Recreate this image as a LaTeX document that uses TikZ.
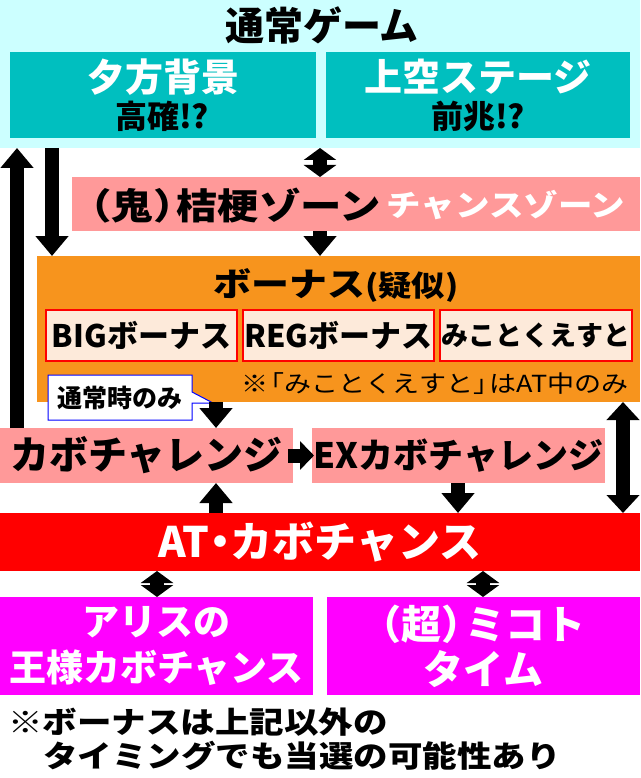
\documentclass[tikz,border=0pt]{standalone}
\usepackage{fontspec}
\setmainfont{Noto Sans CJK JP}[BoldFont={Noto Sans CJK JP Black}]
\newfontfamily\jpw{Noto Sans CJK JP}[FakeStretch=1.15, BoldFont={Noto Sans CJK JP Black}]
\usetikzlibrary{arrows.meta}
\pgfdeclarelayer{bg}
\pgfsetlayers{bg,main}
\definecolor{cybg}{RGB}{204,255,255}
\definecolor{tl}{RGB}{0,191,191}
\definecolor{pnk}{RGB}{255,153,153}
\definecolor{orng}{RGB}{247,148,29}
\definecolor{pch}{RGB}{253,234,218}
\definecolor{mgnt}{RGB}{255,0,255}
\newcommand{\jsize}[1]{\fontsize{#1}{#1}\selectfont}

\begin{document}
\begin{tikzpicture}[x=1pt, y=-1pt,
    panel/.style={anchor=north west, inner sep=0pt, outer sep=0pt},
    bbox/.style={panel, fill=pch, draw=red, line width=1.5pt, minimum height=51pt, font=\bfseries\jsize{31}},
    blk/.style={line width=14pt, -{Triangle[width=32pt,length=20pt]}},
    dbl/.style={line width=14pt, {Triangle[width=32pt,length=12pt]}-{Triangle[width=32pt,length=12pt]}},
    dbll/.style={line width=14pt, {Triangle[width=32pt,length=18pt]}-{Triangle[width=32pt,length=18pt]}},
    rgt/.style={line width=14pt, -{Triangle[width=28pt,length=14pt]}}]
    \useasboundingbox (0,0) rectangle (640,778);

    \coordinate (c1) at (17,0);
    \coordinate (c2) at (52,0);
    \coordinate (c3) at (320,0);
    \coordinate (c4) at (216,0);
    \coordinate (c5) at (458,0);
    \coordinate (c6) at (623,0);
    \coordinate (c7) at (157,0);
    \coordinate (c8) at (483,0);

    \begin{pgfonlayer}{bg}
        \node (cyan) [panel, fill=cybg, minimum width=640pt, minimum height=148pt] at (0,0) {};
        \node (bon) [panel, fill=orng, minimum width=603pt, minimum height=146pt] at (37,256) {};
    \end{pgfonlayer}

    \node (title) [font=\bfseries\jsize{39}] at (322,25) {通常ゲーム};
    \node (yuu) [panel, fill=tl, minimum width=306pt, minimum height=86pt] at (10,52) {};
    \node (jou) [panel, fill=tl, minimum width=304pt, minimum height=86pt] at (326,52) {};
    \node (yuut) [text=white, font=\bfseries\jsize{38}] at (163,77) {夕方背景};
    \node (yuuk) [font=\bfseries\jsize{32}] at (162,116) {高確!?};
    \node (jout) [text=white, font=\bfseries\jsize{38}] at (478,77) {上空ステージ};
    \node (jouz) [font=\bfseries\jsize{32}] at (478,116) {前兆!?};

    \node (kiky) [panel, fill=pnk, minimum width=568pt, minimum height=54pt] at (72,177) {};
    \node (kikyt) [anchor=west, inner sep=0pt, font=\jpw\bfseries\jsize{36}] at (88,206) {\kern-.5em（鬼）\kern-.5em 桔梗ゾーン};
    \node (chz) [text=white, font=\jpw\bfseries\jsize{30}] at (506,205) {チャンスゾーン};

    \node (bont) [font=\jpw\bfseries\jsize{33}] at (336,285) {ボーナス{\jsize{29}(疑似)}};
    \node (big) [bbox, minimum width=191pt] at (46,310) {BIGボーナス};
    \node (reg) [bbox, minimum width=191pt] at (243,310) {REGボーナス};
    \node (mik) [bbox, minimum width=192pt, font=\bfseries\jsize{27}] at (440,310) {みことくえすと};
    \node (note) [anchor=east, inner sep=0pt, font=\jpw\jsize{23.5}] at (629,384) {※\kern-.45em「みことくえすと」\kern-.45em はAT中のみ};

    \node (tsj) [panel, minimum width=144pt, minimum height=45pt, font=\bfseries\jsize{25}] at (48,375) {通常時のみ};
    \coordinate (ctip) at (213,403);
    \begin{pgfonlayer}{bg}
        \draw[blue, fill=white, line width=1pt] (tsj.north west) -- (tsj.north east) -- ([yshift=-17pt]tsj.north east)
            -- (ctip) -- (ctip -| tsj.east) -- (tsj.south east) -- (tsj.south west) -- cycle;
    \end{pgfonlayer}

    \node (kabo) [panel, fill=pnk, minimum width=293pt, minimum height=55pt, font=\bfseries\jsize{39}] at (0,428) {カボチャレンジ};
    \node (ex) [panel, fill=pnk, minimum width=293pt, minimum height=55pt, font=\bfseries\jsize{35}] at (312,428) {EXカボチャレンジ};
    \node (at) [panel, fill=red, minimum width=640pt, minimum height=58pt, text=white, font=\bfseries\jsize{42}] at (0,513) {AT\kern-.25em・\kern-.25em カボチャンス};
    \node (ali) [panel, fill=mgnt, minimum width=313pt, minimum height=98pt, text=white, align=center,
        font=\bfseries\fontsize{37}{46}\selectfont] at (0,597) {アリスの\\王様カボチャンス};
    \node (mit) [panel, fill=mgnt, minimum width=313pt, minimum height=98pt, text=white, align=center,
        font=\bfseries\fontsize{40}{45}\selectfont] at (327,597) {\kern-.5em（超）\kern-.4em ミコト\\タイム};

    \node (foot1) [anchor=west, inner sep=0pt, font=\jpw\bfseries\jsize{30}] at (8,722) {※ボーナスは上記以外の};
    \node (foot2) [anchor=west, inner sep=0pt, font=\jpw\bfseries\jsize{30}] at (43,756) {タイミングでも当選の可能性あり};

    \draw[blk] (kabo.north -| c1) -- (cyan.south -| c1);
    \draw[blk] (cyan.south -| c2) -- (bon.north -| c2);
    \draw[dbl] (cyan.south -| c3) -- (kiky.north -| c3);
    \draw[blk] (kiky.south -| c3) -- (bon.north -| c3);
    \draw[blk] (bon.south -| c4) -- (kabo.north -| c4);
    \draw[rgt] ([xshift=-5pt]kabo.east) -- ([xshift=2pt]ex.west);
    \draw[blk] (at.north -| c4) -- (kabo.south -| c4);
    \draw[blk] (ex.south -| c5) -- (at.north -| c5);
    \draw[dbll] (bon.south -| c6) -- (at.north -| c6);
    \draw[dbl] (at.south -| c7) -- (ali.north -| c7);
    \draw[dbl] (at.south -| c8) -- (mit.north -| c8);
\end{tikzpicture}
\end{document}
